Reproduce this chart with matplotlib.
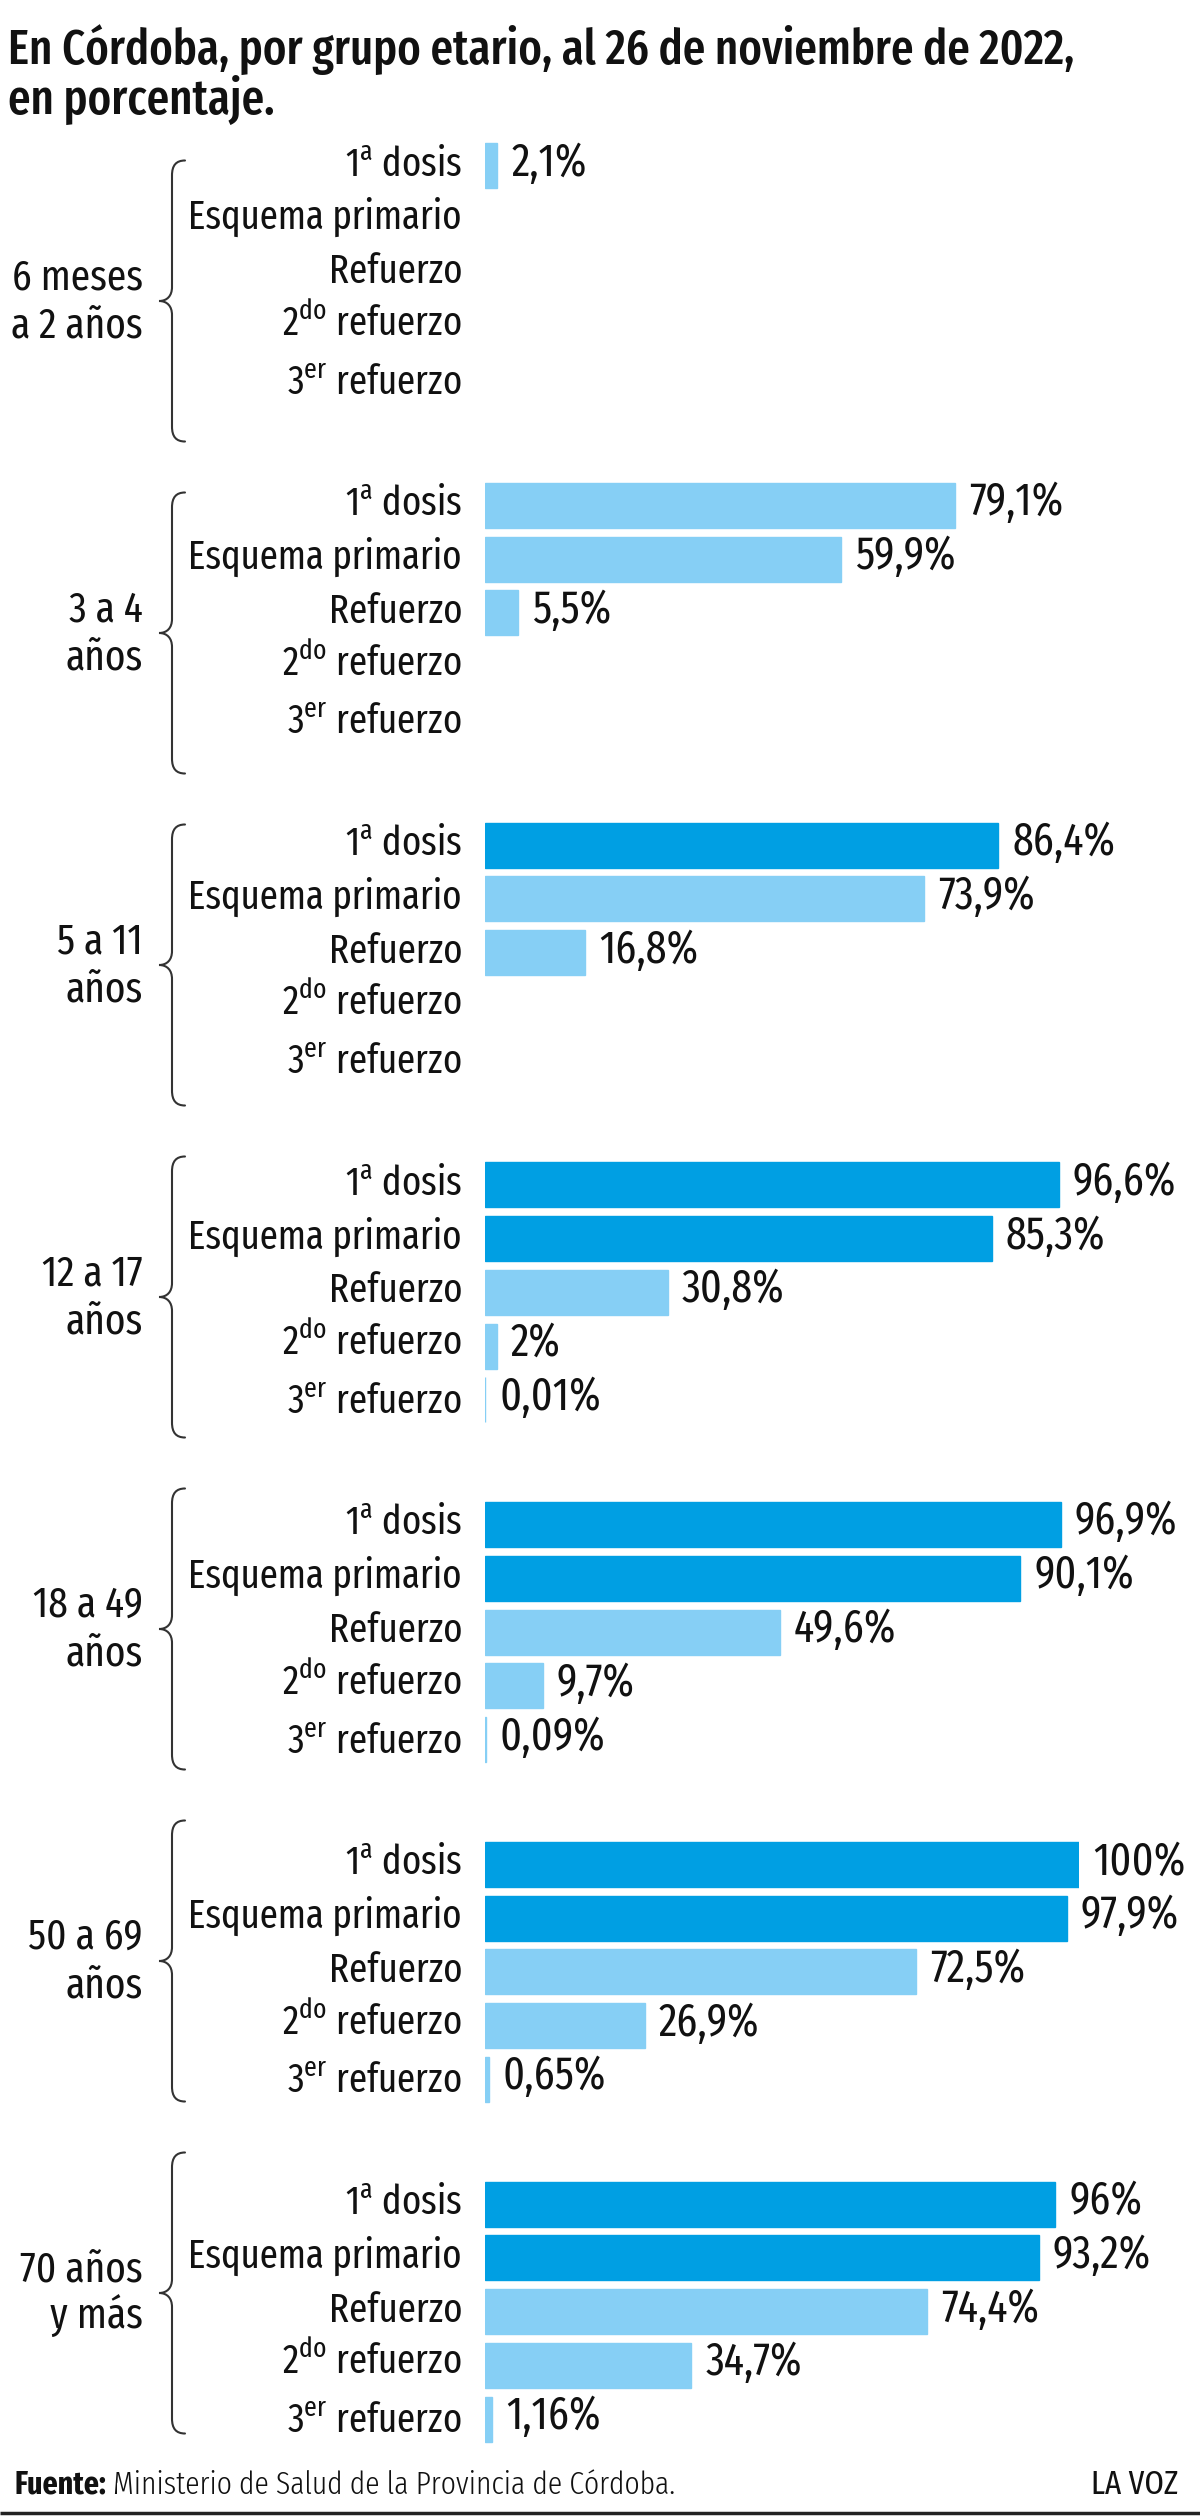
import numpy as np
import matplotlib
matplotlib.use("Agg")
import matplotlib.pyplot as plt
from matplotlib import font_manager as fm
from matplotlib.path import Path
from matplotlib.patches import PathPatch

# ---------------- data ----------------
grupos = ["6 meses\na 2 años", "3 a 4\naños", "5 a 11\naños", "12 a 17\naños",
          "18 a 49\naños", "50 a 69\naños", "70 años\ny más"]
dosis = [r"1$^{\mathrm{a}}$ dosis", "Esquema primario", "Refuerzo",
         r"2$^{\mathrm{do}}$ refuerzo", r"3$^{\mathrm{er}}$ refuerzo"]
nan = np.nan
primera_dosis = [2.1, 79.1, 86.4, 96.6, 96.9, 100, 96]
esquema_primario = [nan, 59.9, 73.9, 85.3, 90.1, 97.9, 93.2]
refuerzo = [nan, 5.5, 16.8, 30.8, 49.6, 72.5, 74.4]
segundo_refuerzo = [nan, nan, nan, 2, 9.7, 26.9, 34.7]
tercer_refuerzo = [nan, nan, nan, 0.01, 0.09, 0.65, 1.16]
series = [primera_dosis, esquema_primario, refuerzo, segundo_refuerzo, tercer_refuerzo]

titulo = ["En Córdoba, por grupo etario, al 26 de noviembre de 2022,", "en porcentaje."]
fuente_bold = "Fuente:"
fuente_txt = "Ministerio de Salud de la Provincia de Córdoba."
marca = "LA VOZ"

# ---------------- fonts ----------------
avail = {f.name for f in fm.fontManager.ttflist}
FAM = "DejaVu Sans"
for cand in ["Fira Sans Extra Condensed", "Fira Sans Condensed", "Roboto Condensed",
             "Encode Sans Condensed", "PT Sans Narrow", "Liberation Sans Narrow"]:
    if cand in avail:
        FAM = cand
        break
FAMS = [FAM, "DejaVu Sans"]
plt.rcParams["font.family"] = FAMS
plt.rcParams["mathtext.fontset"] = "custom"
plt.rcParams["mathtext.rm"] = FAM
plt.rcParams["mathtext.it"] = FAM
plt.rcParams["mathtext.bf"] = FAM

# ---------------- layout (pixels) ----------------
W, H = 1200, 2516
X0 = 485            # bar origin
BAR100 = 594        # width of 100 %
ROW0 = 165.5        # first row center
GPITCH = 339.75     # group pitch
RPITCH = 53.8       # row pitch
BAR_H = 45
LABEL_X = 462
PX = 0.72           # points per pixel at 100 dpi
DARK = "#009fe3"
LIGHT = "#86cff5"
TEXT = "#111111"

fig = plt.figure(figsize=(W / 100, H / 100), dpi=100)
fig.patch.set_facecolor("white")
renderer = fig.canvas.get_renderer()

ov = fig.add_axes([0, 0, 1, 1])
ov.set_xlim(0, W)
ov.set_ylim(H, 0)
ov.axis("off")

ax = fig.add_axes([X0 / W, 0, BAR100 / W, 1])
ax.set_xlim(0, 100)
ax.set_ylim(H, 0)
ax.axis("off")


def fit_size(s, target_w, weight="normal", base=20.0):
    t = fig.text(0, 0, s, fontsize=base, family=FAMS, weight=weight)
    w = t.get_window_extent(renderer).width
    t.remove()
    return base * target_w / w


fs_title = fit_size(titulo[0], 1070, weight=500)
fs_row = fit_size("Esquema primario", 274)
fs_val = fit_size("97,9%", 98)
fs_grp = fit_size("6 meses", 131)
fs_foot = fit_size(fuente_txt, 563, weight=300)


def fmt(v):
    return f"{v:g}".replace(".", ",") + "%"


n_g = len(grupos)
gidx = np.arange(n_g)

# bars
for k, vals in enumerate(series):
    vals = np.asarray(vals, dtype=float)
    ys = ROW0 + GPITCH * gidx + RPITCH * k
    ok = ~np.isnan(vals)
    cols = [DARK if v >= 80 else LIGHT for v in vals[ok]]
    ax.barh(ys[ok], vals[ok], height=BAR_H, color=cols, edgecolor=cols,
            linewidth=1.0, align="center")
    for y, v in zip(ys[ok], vals[ok]):
        ax.annotate(fmt(v), xy=(v, y + 10), xytext=(14 * PX, 0),
                    textcoords="offset points", ha="left", va="baseline",
                    fontsize=fs_val, color=TEXT, annotation_clip=False)

# row labels
row_off = [10, 10, 10, 9, 13]
for g in range(n_g):
    for k, lab in enumerate(dosis):
        y = ROW0 + GPITCH * g + RPITCH * k
        ov.text(LABEL_X, y + row_off[k], lab, ha="right", va="baseline",
                fontsize=fs_row, color=TEXT)

# braces and group labels
BR_C0, BR_P, BR_HH = 301, 332, 140.5
for g, lab in enumerate(grupos):
    mid = BR_C0 + BR_P * g
    top, bot = mid - BR_HH, mid + BR_HH
    xb, xe, xt = 172, 185, 159
    verts = [(xe, top), (176, top), (xb, top + 5), (xb, top + 15),
             (xb, mid - 14),
             (xb, mid - 5), (167, mid), (xt, mid),
             (167, mid), (xb, mid + 5), (xb, mid + 14),
             (xb, bot - 15),
             (xb, bot - 5), (176, bot), (xe, bot)]
    codes = [Path.MOVETO, Path.CURVE4, Path.CURVE4, Path.CURVE4,
             Path.LINETO,
             Path.CURVE4, Path.CURVE4, Path.CURVE4,
             Path.CURVE4, Path.CURVE4, Path.CURVE4,
             Path.LINETO,
             Path.CURVE4, Path.CURVE4, Path.CURVE4]
    ov.add_patch(PathPatch(Path(verts, codes), fill=False, lw=1.5,
                           edgecolor="#333333", capstyle="round"))
    l1, l2 = lab.split("\n")
    ov.text(143, mid - 12, l1, ha="right", va="baseline", fontsize=fs_grp, color=TEXT)
    ov.text(143, mid + 36, l2, ha="right", va="baseline", fontsize=fs_grp, color=TEXT)

# title
ov.text(8, 64, titulo[0], ha="left", va="baseline", fontsize=fs_title,
        weight=500, color=TEXT)
ov.text(8, 114, titulo[1], ha="left", va="baseline", fontsize=fs_title,
        weight=500, color=TEXT)

# footer
FOOT_Y = 2494
tb = ov.text(15, FOOT_Y, fuente_bold, ha="left", va="baseline",
             fontsize=fs_foot, weight="bold", color=TEXT)
bb = tb.get_window_extent(renderer)
x_end = ov.transData.inverted().transform((bb.x1, bb.y0))[0]
ov.text(x_end + 6, FOOT_Y, fuente_txt, ha="left", va="baseline",
        fontsize=fs_foot, weight=300, color=TEXT)
ov.text(1178, FOOT_Y, marca, ha="right", va="baseline",
        fontsize=fs_foot * 1.05, color=TEXT)
ov.plot([0, W], [2513, 2513], color="#222222", lw=2.5, solid_capstyle="butt")

fig.savefig("out.png", dpi=100, facecolor="white")
